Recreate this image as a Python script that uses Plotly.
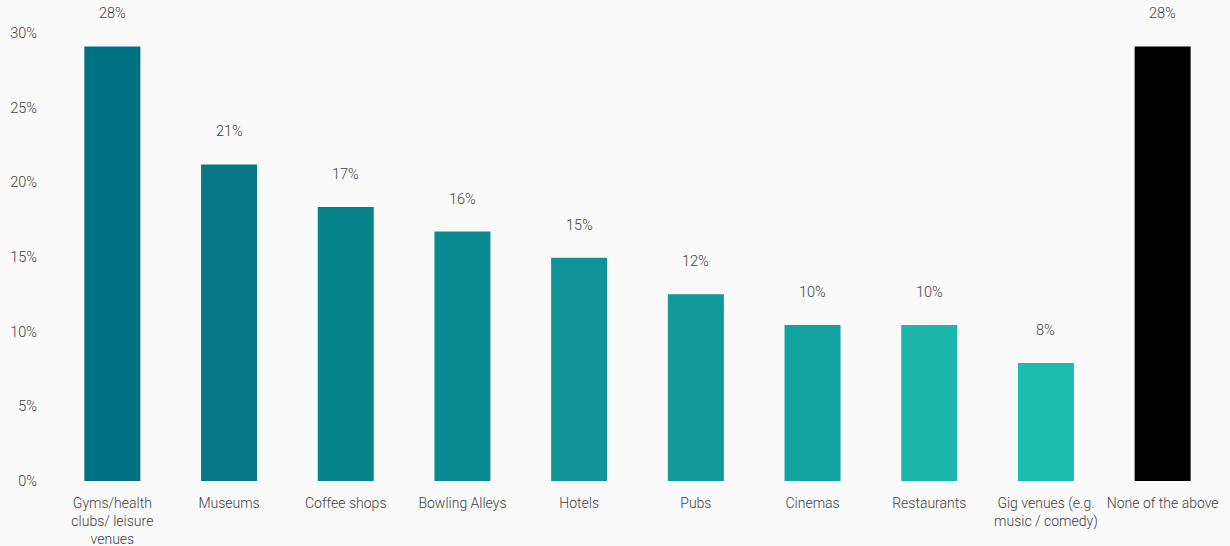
import plotly.graph_objects as go

categories = ["Gyms/health<br>clubs/ leisure<br>venues", "Museums", "Coffee shops", "Bowling Alleys",
              "Hotels", "Pubs", "Cinemas", "Restaurants", "Gig venues (e.g.<br>music / comedy)",
              "None of the above"]
values = [29.1, 21.2, 18.35, 16.7, 14.95, 12.5, 10.45, 10.45, 7.9, 29.1]
labels = ["28%", "21%", "17%", "16%", "15%", "12%", "10%", "10%", "8%", "28%"]
colors = ["#007084", "#037985", "#05828A", "#0A8B91", "#0E9396", "#109A9A",
          "#14A3A0", "#1BB6AC", "#1CBCB0", "#000000"]

font = dict(family="Roboto", size=14.5, color="#404040", weight=300)
xfont = dict(family="Roboto", size=14, color="#404040", weight=300)

fig = go.Figure()
fig.add_trace(go.Bar(x=categories, y=values, marker=dict(color=colors, line=dict(width=0)),
                     hoverinfo="skip"))
for c, v, t in zip(categories, values, labels):
    fig.add_annotation(x=c, y=v, text=t, showarrow=False, yanchor="bottom", yshift=22,
                       font=font)

fig.update_layout(
    width=1230, height=546,
    margin=dict(l=54, r=9, t=33, b=65),
    paper_bgcolor="#FAFAFA", plot_bgcolor="#FAFAFA",
    bargap=0.52, showlegend=False, font=font,
    xaxis=dict(showgrid=False, showline=False, zeroline=False, ticks="", tickfont=xfont,
               ticklabelstandoff=12, automargin=False),
    yaxis=dict(range=[0, 30], tickvals=[0, 5, 10, 15, 20, 25, 30],
               ticktext=["0%", "5%", "10%", "15%", "20%", "25%", "30%"],
               showgrid=False, zeroline=False, showline=False, tickfont=font,
               ticklabelstandoff=16, automargin=False),
)
fig.write_html("out.html")
